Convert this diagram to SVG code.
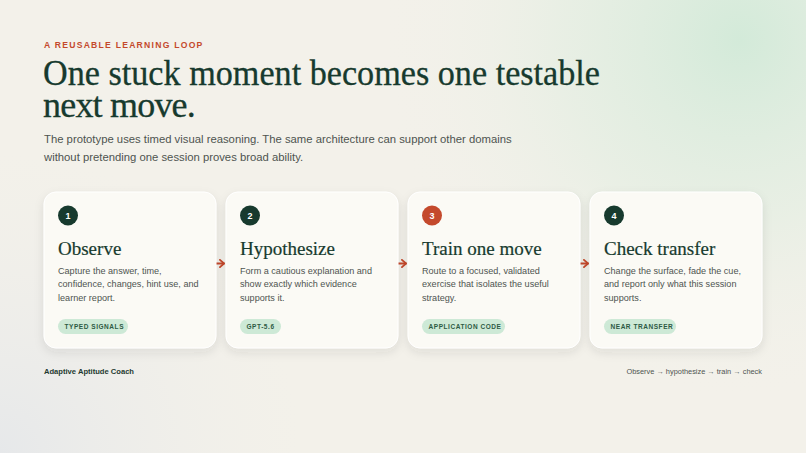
<svg xmlns="http://www.w3.org/2000/svg" width="806" height="453" viewBox="0 0 806 453">
<defs>
<radialGradient id="glowG" cx="740" cy="40" r="360" gradientUnits="userSpaceOnUse">
<stop offset="0" stop-color="#d3ead9"/>
<stop offset="0.5" stop-color="#e4eee2" stop-opacity="0.7"/>
<stop offset="1" stop-color="#f3f1ea" stop-opacity="0"/>
</radialGradient>
<radialGradient id="glowB" cx="0" cy="453" r="300" gradientUnits="userSpaceOnUse">
<stop offset="0" stop-color="#e6e8ea"/>
<stop offset="1" stop-color="#efeeea" stop-opacity="0"/>
</radialGradient>
<filter id="sh" x="-20%" y="-20%" width="140%" height="150%">
<feDropShadow dx="0" dy="4" stdDeviation="5" flood-color="#3a3a30" flood-opacity="0.10"/>
</filter>
<marker id="ah" viewBox="0 0 10 10" refX="8.5" refY="5" markerWidth="9" markerHeight="9" orient="auto" markerUnits="userSpaceOnUse">
<path d="M4,1 L8.5,5 L4,9" fill="none" stroke="#c4492c" stroke-width="2" stroke-linecap="round" stroke-linejoin="round"/>
</marker>
<style>
.card{fill:#fbfaf5;stroke:#ffffff;stroke-width:1}
.num{font-family:"Liberation Sans",Arial,sans-serif;font-weight:700;font-size:9px;fill:#ffffff;text-anchor:middle}
.title{font-family:"Liberation Serif","Times New Roman",serif;font-size:19px;fill:#173a2e;stroke:#173a2e;stroke-width:0.2}
.body{font-family:"Liberation Sans",Arial,sans-serif;font-size:9.1px;fill:#4e5450}
.pill{fill:#cde9d6}
.pilltx{font-family:"Liberation Sans",Arial,sans-serif;font-weight:700;font-size:6.5px;letter-spacing:0.55px;fill:#2e5a44}
.conn{stroke:#c4492c;stroke-width:1.9;fill:none;stroke-linecap:round}
</style>
</defs>
<rect width="806" height="453" fill="#f3f1ea"/>
<rect width="806" height="453" fill="url(#glowB)"/>
<rect width="806" height="453" fill="url(#glowG)"/>

<text x="44" y="47.5" font-family="Liberation Sans,Arial,sans-serif" font-weight="700" font-size="8.6" letter-spacing="1.25" fill="#c4492c">A REUSABLE LEARNING LOOP</text>
<text x="43" y="85" font-family="Liberation Serif,Times New Roman,serif" font-size="36" fill="#173a2e" stroke="#173a2e" stroke-width="0.3" textLength="557" lengthAdjust="spacingAndGlyphs">One stuck moment becomes one testable</text>
<text x="43" y="117" font-family="Liberation Serif,Times New Roman,serif" font-size="36" fill="#173a2e" stroke="#173a2e" stroke-width="0.3" letter-spacing="-0.8">next move.</text>
<text font-family="Liberation Sans,Arial,sans-serif" font-size="11.3" fill="#4e5450">
<tspan x="44" y="143">The prototype uses timed visual reasoning. The same architecture can support other domains</tspan>
<tspan x="44" y="160.5">without pretending one session proves broad ability.</tspan>
</text>

<g id="connectors">
<line class="conn" x1="213" y1="263.5" x2="224" y2="263.5" marker-end="url(#ah)"/>
<line class="conn" x1="395" y1="263.5" x2="406" y2="263.5" marker-end="url(#ah)"/>
<line class="conn" x1="577" y1="263.5" x2="588" y2="263.5" marker-end="url(#ah)"/>
</g>

<g id="node1">
<rect class="card" x="44" y="192" width="172" height="156" rx="12" filter="url(#sh)"/>
<circle cx="68" cy="215.5" r="10" fill="#173a2e"/>
<text class="num" x="68" y="219">1</text>
<text class="title" x="58" y="255">Observe</text>
<text class="body"><tspan x="58" y="273.5">Capture the answer, time,</tspan><tspan x="58" y="287">confidence, changes, hint use, and</tspan><tspan x="58" y="300.5">learner report.</tspan></text>
<rect class="pill" x="58" y="319" width="70" height="15" rx="7.5"/>
<text class="pilltx" x="64.5" y="328.8">TYPED SIGNALS</text>
</g>

<g id="node2">
<rect class="card" x="226" y="192" width="172" height="156" rx="12" filter="url(#sh)"/>
<circle cx="250" cy="215.5" r="10" fill="#173a2e"/>
<text class="num" x="250" y="219">2</text>
<text class="title" x="240" y="255">Hypothesize</text>
<text class="body"><tspan x="240" y="273.5">Form a cautious explanation and</tspan><tspan x="240" y="287">show exactly which evidence</tspan><tspan x="240" y="300.5">supports it.</tspan></text>
<rect class="pill" x="240" y="319" width="41" height="15" rx="7.5"/>
<text class="pilltx" x="246.5" y="328.8">GPT-5.6</text>
</g>

<g id="node3">
<rect class="card" x="408" y="192" width="172" height="156" rx="12" filter="url(#sh)"/>
<circle cx="432" cy="215.5" r="10" fill="#c4492c"/>
<text class="num" x="432" y="219">3</text>
<text class="title" x="422" y="255">Train one move</text>
<text class="body"><tspan x="422" y="273.5">Route to a focused, validated</tspan><tspan x="422" y="287">exercise that isolates the useful</tspan><tspan x="422" y="300.5">strategy.</tspan></text>
<rect class="pill" x="422" y="319" width="83" height="15" rx="7.5"/>
<text class="pilltx" x="428.5" y="328.8">APPLICATION CODE</text>
</g>

<g id="node4">
<rect class="card" x="590" y="192" width="172" height="156" rx="12" filter="url(#sh)"/>
<circle cx="614" cy="215.5" r="10" fill="#173a2e"/>
<text class="num" x="614" y="219">4</text>
<text class="title" x="604" y="255">Check transfer</text>
<text class="body"><tspan x="604" y="273.5">Change the surface, fade the cue,</tspan><tspan x="604" y="287">and report only what this session</tspan><tspan x="604" y="300.5">supports.</tspan></text>
<rect class="pill" x="604" y="319" width="72" height="15" rx="7.5"/>
<text class="pilltx" x="610.5" y="328.8">NEAR TRANSFER</text>
</g>

<text x="44" y="374" font-family="Liberation Sans,Arial,sans-serif" font-weight="700" font-size="7.6" fill="#1f3a30">Adaptive Aptitude Coach</text>
<text x="762" y="374" text-anchor="end" font-family="Liberation Sans,Arial,sans-serif" font-size="7.4" fill="#4e5450">Observe → hypothesize → train → check</text>
</svg>
